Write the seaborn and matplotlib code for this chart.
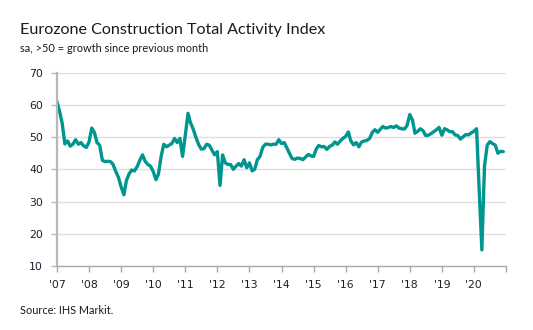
import matplotlib
matplotlib.use("Agg")
import matplotlib.pyplot as plt
import pandas as pd
import seaborn as sns

# Monthly index values, Jan..Dec of each year
y2007 = [61.0, 57.8, 54.3, 47.9, 48.8, 47.2, 47.8, 49.2, 47.8, 48.3, 47.3, 46.8]
y2008 = [48.5, 52.8, 51.5, 48.3, 47.5, 42.8, 42.4, 42.5, 42.4, 41.5, 39.3, 37.5]
y2009 = [34.5, 32.1, 36.5, 38.6, 39.8, 39.5, 40.8, 42.8, 44.5, 42.5, 41.5, 41.0]
y2010 = [39.3, 36.8, 38.5, 44.0, 47.8, 47.0, 47.5, 48.0, 49.6, 48.3, 49.6, 44.0]
y2011 = [50.5, 57.4, 54.5, 52.5, 50.0, 47.8, 46.3, 46.4, 47.8, 47.5, 46.0, 44.5]
y2012 = [45.5, 35.0, 44.5, 42.0, 41.5, 41.5, 40.0, 41.0, 41.8, 41.0, 43.0, 40.5]
y2013 = [42.0, 39.5, 40.0, 43.0, 44.0, 46.8, 47.8, 47.8, 47.6, 47.8, 47.8, 49.2]
y2014 = [48.0, 48.3, 46.8, 45.0, 43.4, 43.1, 43.5, 43.4, 43.0, 43.8, 44.6, 44.2]
y2015 = [44.0, 46.3, 47.4, 47.0, 47.1, 46.2, 47.1, 47.5, 48.5, 47.8, 48.8, 49.6]
y2016 = [50.2, 51.6, 48.8, 47.6, 48.3, 47.0, 48.5, 48.8, 49.0, 49.6, 51.5, 52.3]
y2017 = [51.5, 52.5, 53.3, 52.8, 53.0, 53.3, 53.0, 53.5, 52.8, 52.6, 52.5, 53.6]
y2018 = [57.0, 55.3, 51.2, 51.8, 52.6, 52.0, 50.5, 50.6, 51.1, 51.7, 52.3, 53.0]
y2019 = [50.6, 52.6, 52.3, 51.7, 51.7, 50.7, 50.5, 49.4, 50.1, 50.8, 50.7, 51.3]
y2020 = [51.8, 52.6, 34.0, 15.0, 41.0, 47.5, 48.6, 48.0, 47.5, 45.0, 45.6, 45.5]

values = (y2007 + y2008 + y2009 + y2010 + y2011 + y2012 + y2013 +
          y2014 + y2015 + y2016 + y2017 + y2018 + y2019 + y2020)
years = list(range(2007, 2022))
year_labels = ["'07", "'08", "'09", "'10", "'11", "'12", "'13", "'14",
               "'15", "'16", "'17", "'18", "'19", "'20", ""]
y_ticks = [10, 20, 30, 40, 50, 60, 70]

title = "Eurozone Construction Total Activity Index"
subtitle = "sa, >50 = growth since previous month"
source = "Source: IHS Markit."

df = pd.DataFrame({
    "date": pd.date_range("2007-01-01", periods=len(values), freq="MS"),
    "index": values,
})

sns.set_theme(style="white")
plt.rcParams["font.family"] = ["DejaVu Sans"]

W, H = 533, 330
fig = plt.figure(figsize=(W / 100, H / 100), dpi=100)
ax = fig.add_axes([57 / W, 1 - 266 / H, (506 - 57) / W, (266 - 72.7) / H])

sns.lineplot(data=df, x="date", y="index", ax=ax, color="#00968f",
             linewidth=2.4, solid_joinstyle="round", solid_capstyle="round")

ax.set_xlim(pd.Timestamp("2007-01-01"), pd.Timestamp("2021-01-01"))
ax.set_ylim(10, 70)
ax.set_yticks(y_ticks)
ax.set_yticklabels([str(t) for t in y_ticks])
ax.set_xticks([pd.Timestamp(f"{y}-01-01") for y in years])
ax.set_xticklabels(year_labels)
ax.set_xlabel("")
ax.set_ylabel("")

ax.yaxis.grid(True, color="#dedede", linewidth=1.0)
ax.xaxis.grid(False)
ax.set_axisbelow(True)

for s in ["top", "right"]:
    ax.spines[s].set_visible(False)
ax.spines["left"].set_color("#b8b8b8")
ax.spines["left"].set_linewidth(1.6)
ax.spines["bottom"].set_color("#a8a8a8")
ax.spines["bottom"].set_linewidth(1.0)

ax.tick_params(axis="x", which="major", direction="out", length=4, width=1,
               color="#a8a8a8", labelsize=7.8, labelcolor="#1e1e2e", pad=6,
               bottom=True)
ax.tick_params(axis="y", which="major", direction="out", length=4, width=1,
               color="#b8b8b8", labelsize=7.8, labelcolor="#1e1e2e", pad=6,
               left=True)

fig.text(20 / W, 1 - 30 / H, title, fontsize=11.6, family=["Lato", "DejaVu Sans"],
         color="#1a1a1a", va="center", ha="left")
fig.text(20 / W, 1 - 49 / H, subtitle, fontsize=7.9, family=["Lato", "DejaVu Sans"],
         color="#1a1a1a", va="center", ha="left")
fig.text(20 / W, 1 - 310 / H, source, fontsize=7.8, family=["Lato", "DejaVu Sans"],
         color="#1a1a1a", va="center", ha="left")

fig.savefig("out.png", dpi=100)
